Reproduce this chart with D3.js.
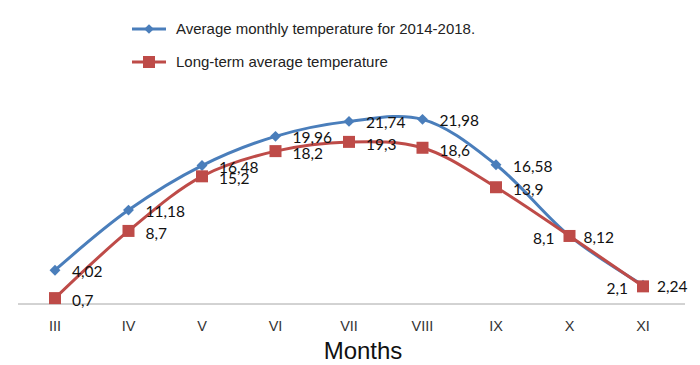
<!DOCTYPE html>
<html>
<head>
<meta charset="utf-8">
<script src="https://cdn.jsdelivr.net/npm/d3@7"></script>
<style>
  body { margin: 0; background: #fff; }
  svg { display: block; }
  .legend text { font-family: "Liberation Sans", Arial, sans-serif; font-size: 15px; fill: #222; }
  .dlabel { font-family: Lato, "Open Sans", sans-serif; font-size: 15.5px; fill: #111; }
  .tick-label { font-family: "Liberation Sans Narrow", "Liberation Sans", sans-serif; font-size: 14.5px; fill: #333; }
  .axis-title { font-family: "Liberation Sans Narrow", "Liberation Sans", sans-serif; font-size: 24px; fill: #111; }
</style>
</head>
<body>
<svg id="chart" width="700" height="365"></svg>
<script>
// ── Data ───────────────────────────────────────────────────────────────────
const months = ['III', 'IV', 'V', 'VI', 'VII', 'VIII', 'IX', 'X', 'XI'];
const recentTemps = [4.02, 11.18, 16.48, 19.96, 21.74, 21.98, 16.58, 8.12, 2.24];
const longTermTemps = [0.7, 8.7, 15.2, 18.2, 19.3, 18.6, 13.9, 8.1, 2.1];
const seriesNames = ['Average monthly temperature for 2014-2018.', 'Long-term average temperature'];

const BLUE = '#4a7ebb';
const RED = '#be4b48';

const svg = d3.select('#chart');

// ── Scales ─────────────────────────────────────────────────────────────────
const x = d3.scalePoint().domain(months).range([55, 643]);
const y = d3.scaleLinear().domain([0, 25]).range([304, 94]);

// ── Axis baseline + labels ─────────────────────────────────────────────────
svg.append('line')
  .attr('x1', 18).attr('x2', 685)
  .attr('y1', y(0)).attr('y2', y(0))
  .attr('stroke', '#a6a6a6').attr('stroke-width', 1);

svg.selectAll('text.tick-label')
  .data(months)
  .join('text')
    .attr('class', 'tick-label')
    .attr('x', d => x(d))
    .attr('y', 331)
    .attr('text-anchor', 'middle')
    .text(d => d);

svg.append('text')
  .attr('class', 'axis-title')
  .attr('x', 363).attr('y', 359)
  .attr('text-anchor', 'middle')
  .text('Months');

// ── Lines ──────────────────────────────────────────────────────────────────
const line = d3.line()
  .x((d, i) => x(months[i]))
  .y(d => y(d))
  .curve(d3.curveCatmullRom.alpha(0.5));

svg.append('path')
  .datum(recentTemps)
  .attr('d', line)
  .attr('fill', 'none').attr('stroke', BLUE).attr('stroke-width', 3);

svg.append('path')
  .datum(longTermTemps)
  .attr('d', line)
  .attr('fill', 'none').attr('stroke', RED).attr('stroke-width', 3);

// ── Markers ────────────────────────────────────────────────────────────────
const diamond = d3.symbol().type(d3.symbolDiamond2).size(76);

svg.selectAll('path.blue-mark')
  .data(recentTemps)
  .join('path')
    .attr('class', 'blue-mark')
    .attr('d', diamond)
    .attr('transform', (d, i) => `translate(${x(months[i])},${y(d)})`)
    .attr('fill', BLUE);

svg.selectAll('rect.red-mark')
  .data(longTermTemps)
  .join('rect')
    .attr('class', 'red-mark')
    .attr('x', (d, i) => x(months[i]) - 6)
    .attr('y', d => y(d) - 6)
    .attr('width', 12).attr('height', 12)
    .attr('fill', RED);

// ── Data labels ────────────────────────────────────────────────────────────
const fmt = v => String(v).replace('.', ',');

svg.selectAll('text.blue-label')
  .data(recentTemps)
  .join('text')
    .attr('class', 'dlabel blue-label')
    .attr('x', (d, i) => x(months[i]) + (i >= 7 ? 14 : 17))
    .attr('y', d => y(d) + 7)
    .text(fmt);

// last two long-term labels sit on the left of their markers
svg.selectAll('text.red-label')
  .data(longTermTemps)
  .join('text')
    .attr('class', 'dlabel red-label')
    .attr('x', (d, i) => i >= 7 ? x(months[i]) - 15 : x(months[i]) + 17)
    .attr('y', d => y(d) + 8)
    .attr('text-anchor', (d, i) => i >= 7 ? 'end' : 'start')
    .text(fmt);

// ── Legend ─────────────────────────────────────────────────────────────────
const legend = svg.append('g').attr('class', 'legend');
const legendRows = legend.selectAll('g')
  .data(seriesNames)
  .join('g')
    .attr('transform', (d, i) => `translate(132,${29 + i * 33})`);

legendRows.append('line')
  .attr('x1', 0).attr('x2', 34)
  .attr('stroke', (d, i) => i === 0 ? BLUE : RED)
  .attr('stroke-width', 3);

legendRows.each(function (d, i) {
  const g = d3.select(this);
  if (i === 0) {
    g.append('path').attr('d', d3.symbol().type(d3.symbolDiamond2).size(60))
      .attr('transform', 'translate(17,0)')
      .attr('fill', BLUE);
  } else {
    g.append('rect').attr('x', 11).attr('y', -6)
      .attr('width', 12).attr('height', 12).attr('fill', RED);
  }
});

legendRows.append('text')
  .attr('x', 44).attr('y', 5)
  .text(d => d);
</script>
</body>
</html>
